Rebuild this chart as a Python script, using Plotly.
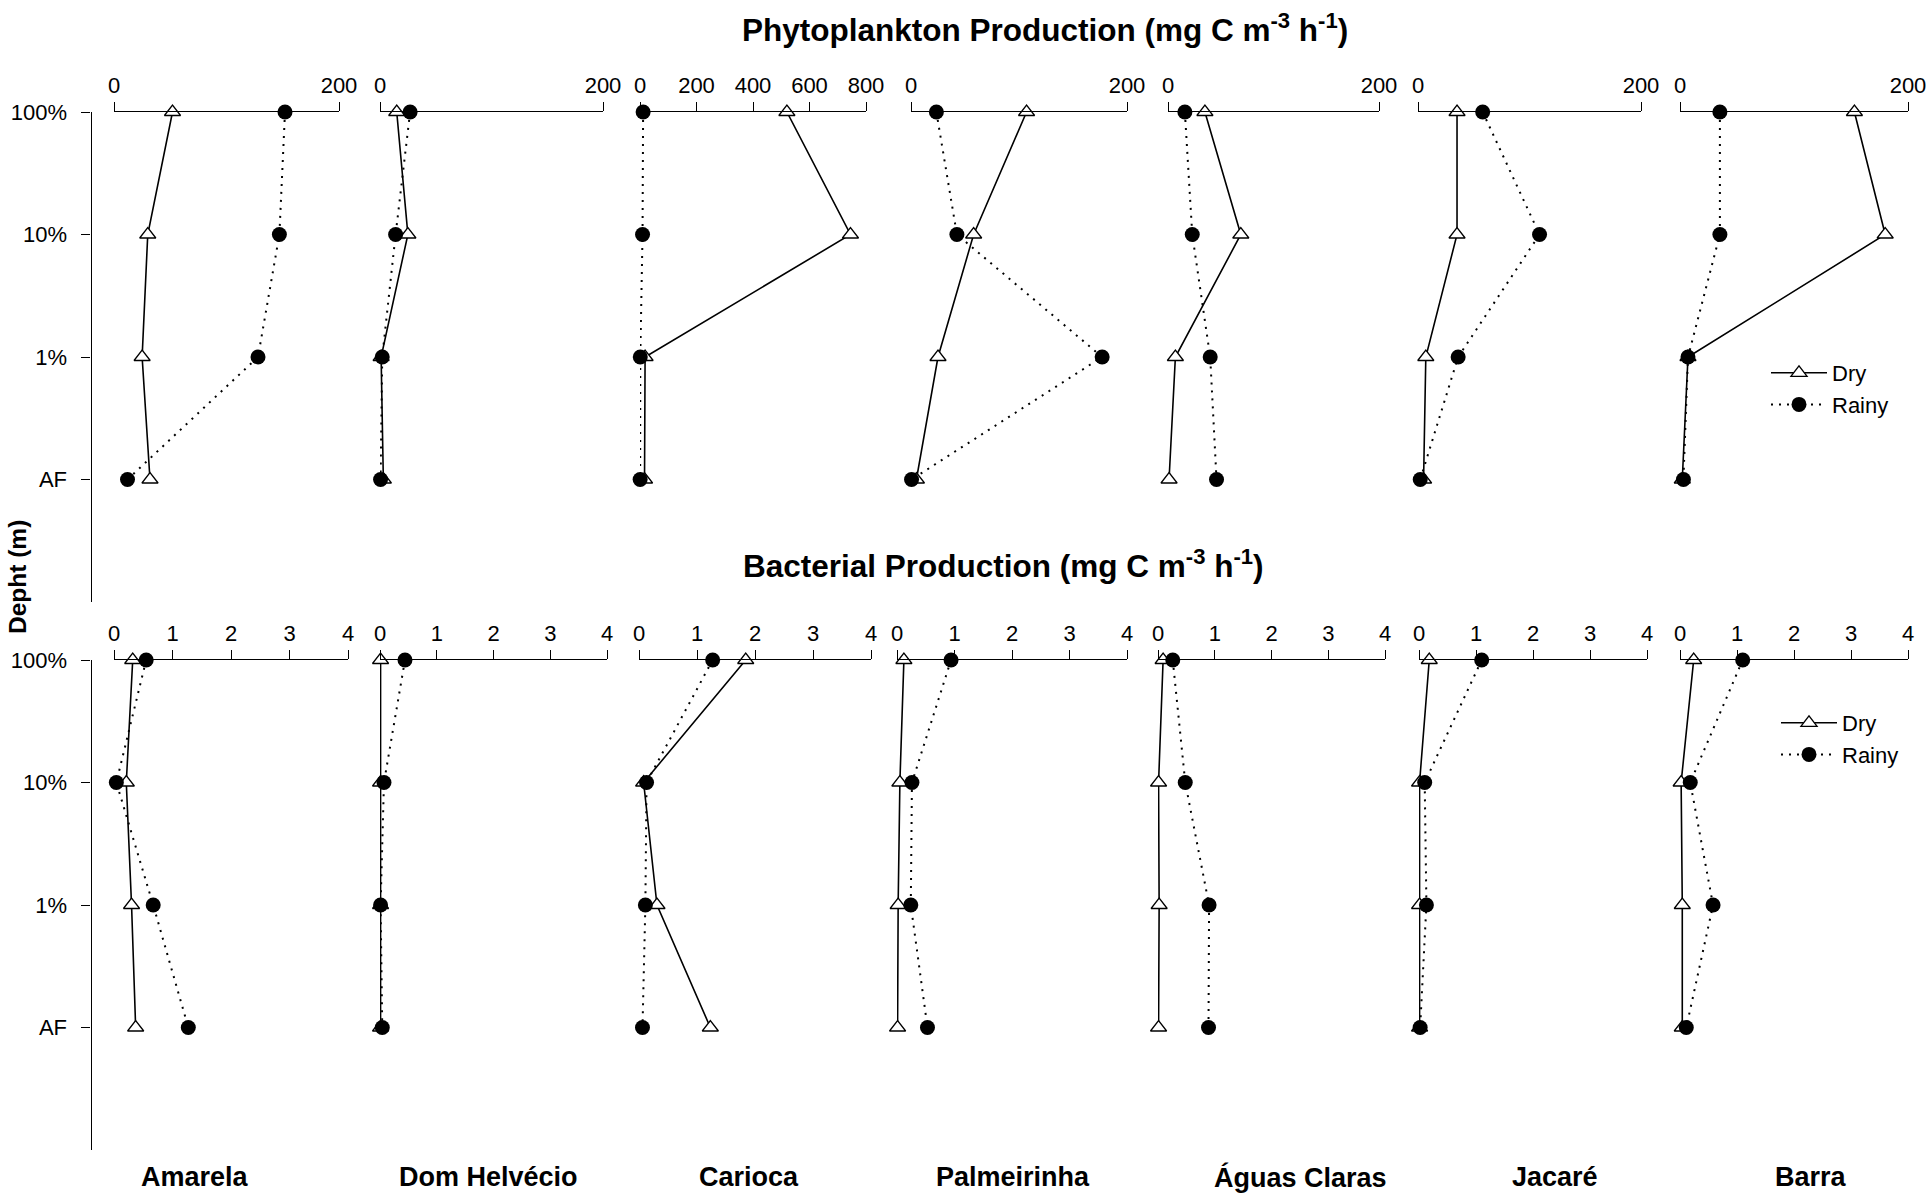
import plotly.graph_objects as go

W, H = 1932, 1195

stations = ["Amarela", "Dom Helvécio", "Carioca", "Palmeirinha",
            "Águas Claras", "Jacaré", "Barra"]
depths = ["100%", "10%", "1%", "AF"]

# Phytoplankton production (mg C m-3 h-1), one row per station, 100% -> AF
phyto_dry = [
    [52, 30, 25, 32],
    [15, 25, 1, 3],
    [520, 745, 18, 16],
    [107, 58, 25, 5],
    [35, 69, 7, 1],
    [35, 35, 7, 5],
    [153, 180, 7, 2],
]
phyto_rainy = [
    [152, 147, 128, 12],
    [27, 14, 2, 0.5],
    [11, 9, 1, 0.5],
    [23.5, 42.5, 177, 0.5],
    [16, 23, 40, 46],
    [58, 109, 36, 2],
    [35, 35, 7, 3],
]
phyto_max = [200, 200, 800, 200, 200, 200, 200]
phyto_ticks = [[0, 200], [0, 200], [0, 200, 400, 600, 800],
               [0, 200], [0, 200], [0, 200], [0, 200]]

# Bacterial production (mg C m-3 h-1)
bact_dry = [
    [0.32, 0.21, 0.30, 0.37],
    [0.01, 0.01, 0.01, 0.01],
    [1.84, 0.08, 0.31, 1.23],
    [0.12, 0.05, 0.02, 0.01],
    [0.09, 0.01, 0.02, 0.01],
    [0.18, 0.01, 0.01, 0.01],
    [0.24, 0.02, 0.04, 0.04],
]
bact_rainy = [
    [0.55, 0.04, 0.67, 1.27],
    [0.44, 0.07, 0.01, 0.04],
    [1.27, 0.13, 0.11, 0.06],
    [0.94, 0.26, 0.24, 0.53],
    [0.26, 0.48, 0.90, 0.89],
    [1.10, 0.10, 0.13, 0.02],
    [1.10, 0.18, 0.58, 0.11],
]
bact_max = [4] * 7
bact_ticks = [[0, 1, 2, 3, 4]] * 7

# panel placement in pixels
top_x = [(114, 339), (380, 603), (640, 866), (911, 1127),
         (1168, 1379), (1418, 1641), (1680, 1908)]
bot_x = [(114, 348), (380, 607), (639, 871), (897, 1127),
         (1158, 1385), (1419, 1647), (1680, 1908)]
top_y = (112, 602)
bot_y = (660, 1150)

FONT = "Liberation Sans, Arial, sans-serif"
depth_pos = list(range(len(depths)))


def px_x(v):
    return v / W


def px_y(v):
    return 1 - v / H


fig = go.Figure()
layout = {}

dry_marker = dict(symbol="triangle-up", size=14, color="white",
                  line=dict(color="black", width=1.3))
rainy_marker = dict(symbol="circle", size=15, color="black",
                    line=dict(color="black", width=0))

for row, (dry, rainy, xmax, ticks, xpos, ypos, yname, legname) in enumerate([
    (phyto_dry, phyto_rainy, phyto_max, phyto_ticks, top_x, top_y, "y", "legend"),
    (bact_dry, bact_rainy, bact_max, bact_ticks, bot_x, bot_y, "y2", "legend2"),
]):
    for i in range(len(stations)):
        n = row * 7 + i + 1
        xname = "x" if n == 1 else f"x{n}"
        layout["xaxis" if n == 1 else f"xaxis{n}"] = dict(
            domain=[px_x(xpos[i][0]), px_x(xpos[i][1])],
            range=[0, xmax[i]], anchor=yname, side="top",
            tickvals=ticks[i], ticks="outside", ticklen=9, tickwidth=1.2,
            tickcolor="black", showline=True, linecolor="black", linewidth=1.2,
            showgrid=False, zeroline=False, automargin=False,
            tickfont=dict(family=FONT, size=22, color="black"),
        )
        show = (i == len(stations) - 1)
        fig.add_trace(go.Scatter(
            x=dry[i], y=depth_pos, xaxis=xname, yaxis=yname,
            mode="lines+markers", name="Dry", legend=legname,
            showlegend=show, cliponaxis=False,
            line=dict(color="black", width=1.6),
            marker=dry_marker,
        ))
        fig.add_trace(go.Scatter(
            x=rainy[i], y=depth_pos, xaxis=xname, yaxis=yname,
            mode="lines+markers", name="Rainy", legend=legname,
            showlegend=show, cliponaxis=False,
            line=dict(color="black", width=2, dash="2px,6px"),
            marker=rainy_marker,
        ))
    layout["yaxis" if row == 0 else "yaxis2"] = dict(
        domain=[px_y(ypos[1]), px_y(ypos[0])], range=[4, 0],
        anchor="free", position=px_x(90.5),
        tickvals=depth_pos, ticktext=depths, ticks="outside", ticklen=9,
        tickwidth=1.2, tickcolor="black", showline=True, linecolor="black",
        linewidth=1.2, showgrid=False, zeroline=False, ticklabelstandoff=10,
        automargin=False,
        tickfont=dict(family=FONT, size=22, color="black"),
    )

legend_style = dict(font=dict(family=FONT, size=22, color="black"),
                    bgcolor="rgba(0,0,0,0)", xanchor="left", yanchor="top",
                    itemwidth=56, tracegroupgap=0)

annotations = [
    dict(text="<b>Phytoplankton Production (mg C m<sup>-3</sup> h<sup>-1</sup>)</b>",
         x=px_x(1045), y=px_y(28), font=dict(size=31.5)),
    dict(text="<b>Bacterial Production (mg C m<sup>-3</sup> h<sup>-1</sup>)</b>",
         x=px_x(1003), y=px_y(564), font=dict(size=31.5)),
    dict(text="<b>Depht (m)</b>", x=px_x(17), y=px_y(577), textangle=-90,
         font=dict(size=24.5)),
]
name_x = [195, 488, 749, 1013, 1300, 1555, 1811]
for nm, cx in zip(stations, name_x):
    annotations.append(dict(text=f"<b>{nm}</b>", x=px_x(cx), y=px_y(1177),
                            font=dict(size=27)))
for a in annotations:
    a.update(xref="paper", yref="paper", showarrow=False,
             xanchor="center", yanchor="middle")
    a["font"].update(family=FONT, color="black")

fig.update_layout(
    width=W, height=H,
    margin=dict(l=0, r=0, t=0, b=0, autoexpand=False),
    paper_bgcolor="white", plot_bgcolor="white",
    showlegend=True,
    legend=dict(x=px_x(1766), y=px_y(352), **legend_style),
    legend2=dict(x=px_x(1776), y=px_y(702), **legend_style),
    annotations=annotations,
    **layout,
)

fig.write_html(
    "out.html",
    post_script="document.body.style.margin='0';"
                "document.body.style.overflow='hidden';",
)
